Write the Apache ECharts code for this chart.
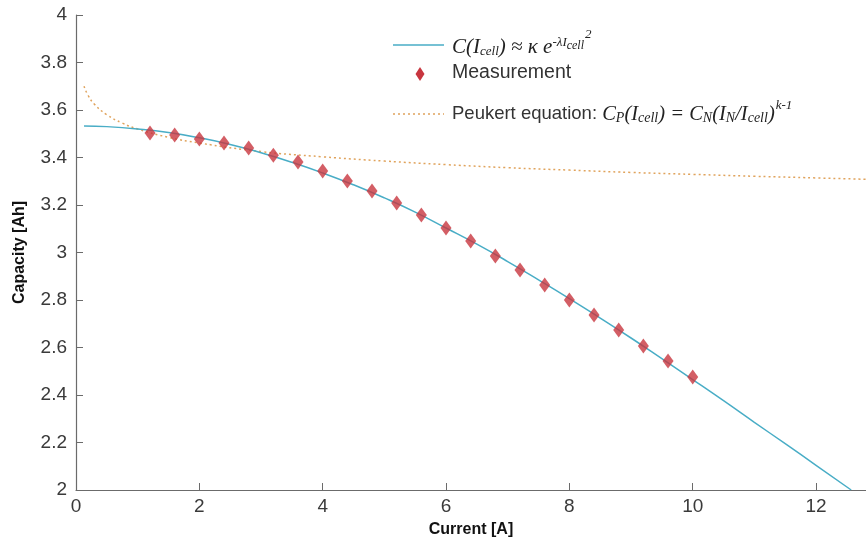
<!DOCTYPE html>
<html><head><meta charset="utf-8">
<script src="https://cdn.jsdelivr.net/npm/echarts@6/dist/echarts.min.js"></script>
<style>html,body{margin:0;padding:0;background:#fff}#c{width:866px;height:548px}</style>
</head><body><div id="c"></div>
<script>
// Measured points
var measCurrent = [1.2,1.6,2.0,2.4,2.8,3.2,3.6,4.0,4.4,4.8,5.2,5.6,6.0,6.4,6.8,7.2,7.6,8.0,8.4,8.8,9.2,9.6,10.0];
var measCapacity = [3.503,3.495,3.478,3.461,3.440,3.410,3.381,3.343,3.301,3.259,3.208,3.158,3.103,3.048,2.985,2.926,2.863,2.800,2.737,2.674,2.606,2.543,2.476];
// Fitted exponential curve
var fitCurrent = [0.13,0.5,1,1.5,2,2.5,3,3.5,4,4.5,5,5.5,6,6.5,7,7.5,8,8.5,9,9.5,10,10.5,11,11.5,12,12.57];
var fitCapacity = [3.533,3.530,3.520,3.505,3.483,3.455,3.420,3.380,3.335,3.285,3.230,3.170,3.103,3.035,2.962,2.885,2.806,2.724,2.640,2.553,2.465,2.376,2.285,2.195,2.104,2.000];
// Peukert curve
var peuCurrent = [0.13,0.2,0.3,0.5,0.75,1,1.5,2,3,4,5,6,7,8,9,10,11,12,12.85];
var peuCapacity = [3.700,3.660,3.624,3.580,3.545,3.520,3.485,3.461,3.425,3.403,3.385,3.370,3.357,3.347,3.337,3.329,3.321,3.314,3.308];
// Axis ticks
var xTicks = [0,2,4,6,8,10,12];
var yRange = [2,4];

function pairs(xs, ys){ return xs.map(function(x,i){return [x, ys[i]];}); }

var chart = echarts.init(document.getElementById('c'), null, {renderer:'canvas'});
var axisColor = '#6b6b6b';
var labelFont = {color:'#3a3a3a', fontSize:19, fontFamily:'Liberation Sans, Arial, sans-serif'};
var serif = 'Liberation Serif, Times New Roman, serif';
var sans = 'Liberation Sans, Arial, sans-serif';

chart.setOption({
  animation:false,
  grid:{left:76, top:15, right:0, bottom:58, containLabel:false},
  xAxis:{
    type:'value', min:0, max:12.81, interval:2,
    name:'Current [A]', nameLocation:'middle', nameGap:32,
    nameTextStyle:{fontWeight:'bold', fontSize:16, color:'#111', fontFamily:sans},
    axisLine:{show:true, lineStyle:{color:axisColor, width:1.2}},
    axisTick:{show:true, inside:true, length:7, lineStyle:{color:axisColor}},
    axisLabel:Object.assign({showMaxLabel:false, margin:7}, labelFont),
    splitLine:{show:false}
  },
  yAxis:{
    type:'value', min:yRange[0], max:yRange[1], interval:0.2,
    name:'Capacity [Ah]', nameLocation:'middle', nameGap:48,
    nameTextStyle:{fontWeight:'bold', fontSize:16, color:'#111', fontFamily:sans},
    axisLine:{show:true, lineStyle:{color:axisColor, width:1.2}},
    axisTick:{show:true, inside:true, length:7, lineStyle:{color:axisColor}},
    axisLabel:Object.assign({margin:9}, labelFont),
    splitLine:{show:false}
  },
  series:[
    {type:'line', data:pairs(peuCurrent, peuCapacity), smooth:true, showSymbol:false,
     lineStyle:{color:'#e0a35c', width:1.5, type:[2,3]}, z:2},
    {type:'line', data:pairs(fitCurrent, fitCapacity), smooth:true, showSymbol:false,
     lineStyle:{color:'#49adc6', width:1.5}, z:3},
    {type:'scatter', data:pairs(measCurrent, measCapacity), symbol:'diamond', symbolSize:[11,15],
     itemStyle:{color:'#c8363f'}, z:4}
  ],
  graphic:[
    {type:'line', shape:{x1:393,y1:45,x2:444,y2:45}, style:{stroke:'#49adc6', lineWidth:1.5}},
    {type:'text', x:452, y:32, style:{
      text:'{m|C(I}{sub|cell}{m|) ≈ κ e}{sup|-λI}{sup2|cell}{sup3|2}',
      rich:{
        m:{fontFamily:serif, fontStyle:'italic', fontSize:21, fill:'#222', lineHeight:26, verticalAlign:'bottom'},
        sub:{fontFamily:serif, fontStyle:'italic', fontSize:13, fill:'#222', lineHeight:22, verticalAlign:'bottom'},
        sup:{fontFamily:serif, fontStyle:'italic', fontSize:13, fill:'#222', lineHeight:26, verticalAlign:'top', padding:[4,0,0,0]},
        sup2:{fontFamily:serif, fontStyle:'italic', fontSize:12, fill:'#222', lineHeight:26, verticalAlign:'top', padding:[8,0,0,0]},
        sup3:{fontFamily:serif, fontStyle:'italic', fontSize:13, fill:'#222', lineHeight:26, verticalAlign:'top', padding:[-4,0,0,1]}
      }}},
    {type:'polygon', shape:{points:[[420,67],[424.5,74],[420,81],[415.5,74]]}, style:{fill:'#c8363f'}},
    {type:'text', x:452, y:63, style:{text:'Measurement', fontFamily:sans, fontSize:19.5, fill:'#333'}},
    {type:'line', shape:{x1:393,y1:114,x2:444,y2:114}, style:{stroke:'#e0a35c', lineWidth:1.5, lineDash:[2,3]}},
    {type:'text', x:452, y:99, style:{
      text:'{t|Peukert equation: }{m|C}{sub|P}{m|(I}{sub|cell}{m|) = C}{sub|N}{m|(I}{sub|N}{m|/I}{sub|cell}{m|)}{sup|k-1}',
      rich:{
        t:{fontFamily:sans, fontSize:18.5, fill:'#333', lineHeight:26, verticalAlign:'bottom', padding:[0,0,2,0]},
        m:{fontFamily:serif, fontStyle:'italic', fontSize:20.5, fill:'#222', lineHeight:26, verticalAlign:'bottom'},
        sub:{fontFamily:serif, fontStyle:'italic', fontSize:14, fill:'#222', lineHeight:22, verticalAlign:'bottom'},
        sup:{fontFamily:serif, fontStyle:'italic', fontSize:13, fill:'#222', lineHeight:26, verticalAlign:'top', padding:[0,0,0,1]}
      }}}
  ]
});
</script></body></html>
